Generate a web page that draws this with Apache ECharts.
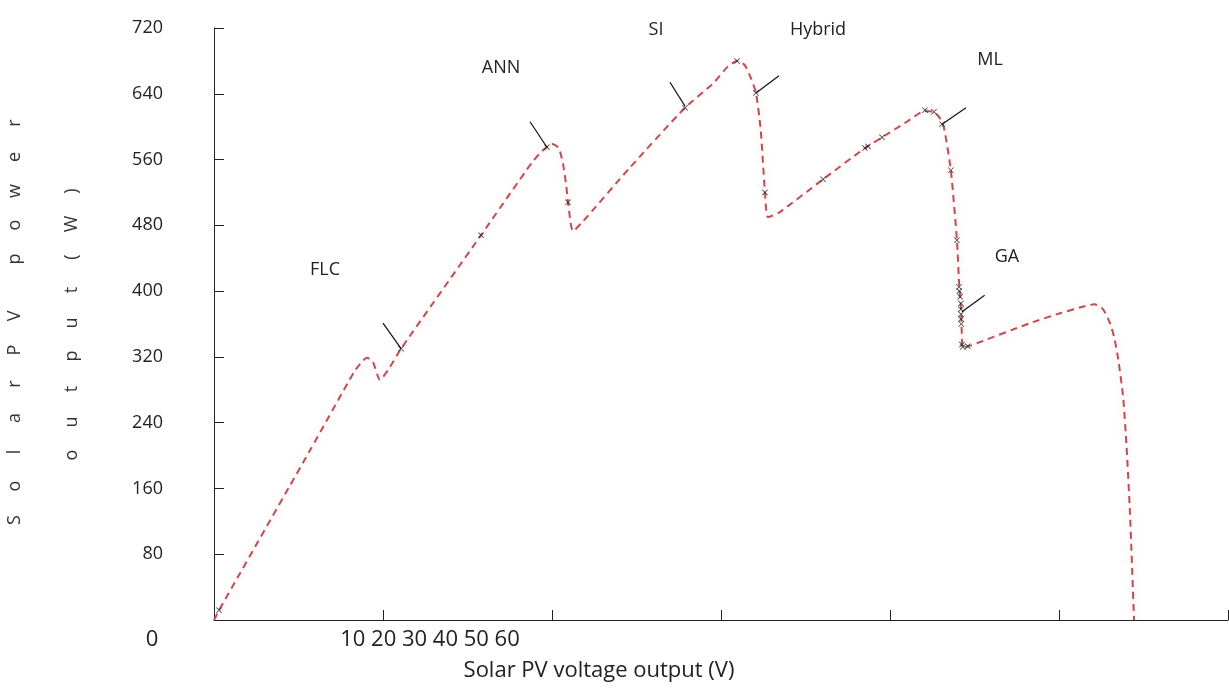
<!DOCTYPE html>
<html>
<head>
<meta charset="utf-8">
<script src="https://cdn.jsdelivr.net/npm/echarts@6/dist/echarts.min.js"></script>
<style>html,body{margin:0;padding:0;background:#fff}#c{width:1229px;height:688px}</style>
</head>
<body>
<div id="c"></div>
<script>
// P-V curve (voltage V, power W)
const curveV = [0, 0.3, 5.7, 8.3, 8.75, 9.05, 9.4, 9.82, 10.3, 11.07, 15.8, 18.8, 19.4, 20.0, 20.4, 20.65, 20.85, 20.95, 21.24,
  21.8, 24.6, 27.87, 29.5, 30.4, 30.95, 31.4, 31.75, 32.07, 32.35, 32.6, 32.78,
  33.4, 36.04, 38.52, 39.53, 41.0, 42.07, 42.6, 42.96, 43.2, 43.6, 43.96, 44.1, 44.2, 44.26, 44.3,
  44.8, 48.28, 50.06, 51.4, 52.1, 52.6, 53.0, 53.25, 53.5, 53.8, 54.0, 54.2, 54.44];
const curveP = [0, 12, 207, 302, 314, 319, 314, 292, 304, 330, 468, 556, 570, 579, 574, 555, 527, 508, 473,
  484, 550, 623, 652, 673, 680, 675, 660, 641, 596, 520, 490,
  495, 536, 574, 587, 606, 619, 618, 610, 598, 547, 462, 405, 380, 340, 331,
  334, 361, 373, 381, 384, 378, 362, 345, 318, 270, 210, 130, 0];
// sampled points (x markers)
const markV = [0.3, 11.07, 15.8, 19.7, 20.95, 27.87, 30.95, 32.07, 32.6, 36.04, 38.52, 38.7, 39.53, 42.07, 42.6, 43.08,
  43.6, 43.96, 44.08, 44.1, 44.15, 44.2, 44.2, 44.2, 44.2, 44.22, 44.26, 44.3, 44.6];
const markP = [12, 330, 468, 575, 508, 623, 680, 641, 520, 536, 574, 576, 587, 620, 618, 603,
  547, 462, 405, 400, 393, 385, 378, 372, 366, 360, 335, 332, 333];
// method labels and pointer lines
const methods = ['FLC', 'ANN', 'SI', 'Hybrid', 'ML', 'GA'];
const methodPos = [[325, 270], [501, 68], [656, 30], [818, 30], [990, 60], [1007, 257]];
const pointerFrom = [[10.0, 361], [18.7, 606], [26.98, 654], [33.43, 662], [44.5, 623], [45.6, 395]];
const pointerTo = [[11.07, 330], [19.7, 575], [27.87, 625], [32.07, 641], [43.08, 603], [44.26, 375]];
const yTicks = [0, 80, 160, 240, 320, 400, 480, 560, 640, 720];
const xRowLabel = '10 20 30 40 50 60';
const yName1 = 'SolarPV power';
const yName2 = 'output(W)';

const chart = echarts.init(document.getElementById('c'));
const font = '"Open Sans", sans-serif';
const graphic = [];
methods.forEach((m, i) => graphic.push({type: 'text', x: methodPos[i][0], y: methodPos[i][1],
  style: {text: m, font: '18px ' + font, fill: '#222', align: 'center', verticalAlign: 'middle'}}));
graphic.push({type: 'text', x: 152, y: 640, style: {text: '0', font: '22px ' + font, fill: '#222', align: 'center', verticalAlign: 'middle'}});
graphic.push({type: 'text', x: 430, y: 640, style: {text: xRowLabel, font: '22px ' + font, fill: '#222', align: 'center', verticalAlign: 'middle'}});
graphic.push({type: 'text', x: 599, y: 671, style: {text: 'Solar PV voltage output (V)', font: '22px ' + font, fill: '#222', align: 'center', verticalAlign: 'middle'}});
function vertText(str, x, y0, step, gap) {
  let y = y0;
  for (const ch of str) {
    if (ch === ' ') { y -= gap; continue; }
    graphic.push({type: 'text', x: x, y: y, rotation: Math.PI / 2,
      style: {text: ch, font: '18px ' + font, fill: '#333', align: 'center', verticalAlign: 'middle'}});
    y -= step;
  }
}
vertText(yName1, 15, 520, 34, 23);
vertText(yName2, 72, 455, 33, 0);

chart.setOption({
  animation: false,
  backgroundColor: '#fff',
  grid: {left: 214, top: 28, right: 1, bottom: 68},
  xAxis: {type: 'value', min: 0, max: 60, interval: 10,
    axisLine: {show: true, lineStyle: {color: '#222', width: 1}},
    axisTick: {show: true, inside: true, length: 10, lineStyle: {color: '#222'}},
    axisLabel: {show: false}, splitLine: {show: false}},
  yAxis: {type: 'value', min: 0, max: 720, interval: 80,
    axisLine: {show: true, lineStyle: {color: '#222', width: 1}},
    axisTick: {show: true, inside: true, length: 10, lineStyle: {color: '#222'}},
    axisLabel: {margin: 51, fontFamily: 'Open Sans', fontSize: 18, color: '#222',
      formatter: v => (v === 0 ? '' : String(v))},
    splitLine: {show: false}},
  graphic: graphic,
  series: [
    {type: 'line', data: curveV.map((v, i) => [v, curveP[i]]), smooth: 0.2, symbol: 'none',
      lineStyle: {color: '#bb4f58', width: 2, type: [7, 5], shadowColor: 'rgba(240,160,160,0.45)', shadowBlur: 6}},
    {type: 'scatter', data: markV.map((v, i) => [v, markP[i]]),
      symbol: 'path://M0,1L1,0L5,4L9,0L10,1L6,5L10,9L9,10L5,6L1,10L0,9L4,5Z', symbolSize: 6,
      itemStyle: {color: '#222'}, z: 5},
    {type: 'lines', coordinateSystem: 'cartesian2d',
      data: pointerFrom.map((p, i) => ({coords: [p, pointerTo[i]]})),
      lineStyle: {color: '#111', width: 1.2, opacity: 1}, z: 6}
  ]
});
</script>
</body>
</html>
